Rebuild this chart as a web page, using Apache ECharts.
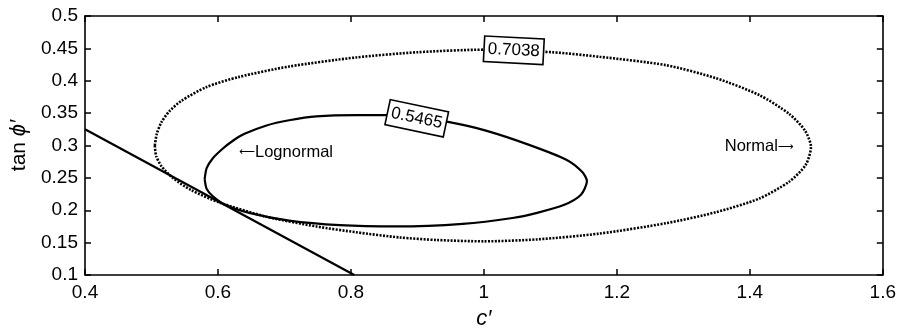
<!DOCTYPE html>
<html>
<head>
<meta charset="utf-8">
<script src="https://cdn.jsdelivr.net/npm/echarts@6/dist/echarts.min.js"></script>
<style>
  html, body { margin: 0; padding: 0; background: #fff; }
  #chart { width: 899px; height: 335px; }
</style>
</head>
<body>
<div id="chart"></div>
<script>
// values
var xTicks = [0.4, 0.6, 0.8, 1.0, 1.2, 1.4, 1.6];
var yTicks = [0.1, 0.15, 0.2, 0.25, 0.3, 0.35, 0.4, 0.45, 0.5];

var lognormalCurve = [
  [0.580, 0.248], [0.583, 0.265], [0.592, 0.280], [0.607, 0.295], [0.622, 0.307],
  [0.640, 0.318], [0.673, 0.331], [0.707, 0.339], [0.748, 0.345], [0.808, 0.347],
  [0.853, 0.347], [0.900, 0.343], [0.948, 0.336], [1.003, 0.323], [1.068, 0.301],
  [1.124, 0.278], [1.148, 0.259], [1.155, 0.245], [1.146, 0.224], [1.120, 0.208],
  [1.080, 0.196], [1.043, 0.188], [0.968, 0.179], [0.868, 0.175], [0.783, 0.177],
  [0.707, 0.184], [0.647, 0.196], [0.610, 0.209], [0.592, 0.222], [0.583, 0.233],
  [0.580, 0.248]
];

var normalCurve = [
  [0.505, 0.300], [0.508, 0.318], [0.515, 0.336], [0.527, 0.353], [0.545, 0.369],
  [0.582, 0.390], [0.632, 0.406], [0.707, 0.422], [0.808, 0.436], [0.900, 0.444],
  [1.000, 0.448], [1.103, 0.444], [1.174, 0.437], [1.274, 0.424], [1.349, 0.404],
  [1.414, 0.378], [1.459, 0.349], [1.483, 0.323], [1.492, 0.298], [1.484, 0.270],
  [1.459, 0.244], [1.414, 0.218], [1.349, 0.197], [1.274, 0.180], [1.174, 0.164],
  [1.080, 0.155], [1.000, 0.152], [0.930, 0.154], [0.873, 0.158], [0.808, 0.166],
  [0.748, 0.175], [0.673, 0.190], [0.602, 0.212], [0.560, 0.231], [0.532, 0.250],
  [0.515, 0.268], [0.507, 0.284], [0.505, 0.300]
];

var limitLine = [[0.4, 0.325], [0.805, 0.1]];

// contour value labels: [x, y, text, rotation]
var contourLabels = [
  [0.899, 0.342, '0.5465', -12],
  [1.045, 0.447, '0.7038', -3]
];
// curve names: [x, y, text, side]
var curveNotes = [
  [0.632, 0.290, '{a|\u27F5}Lognormal', 'left'],
  [1.466, 0.298, 'Normal{a|\u27F6}', 'right']
];

var chart = echarts.init(document.getElementById('chart'));
var font = 'Liberation Sans, Arial, sans-serif';

function axisBase() {
  return {
    type: 'value',
    axisLine: { show: true, onZero: false, lineStyle: { color: '#000', width: 1.6 } },
    axisTick: { show: true, inside: true, length: 6, lineStyle: { color: '#000', width: 1.5 } },
    splitLine: { show: false }
  };
}

var xBottom = Object.assign(axisBase(), {
  position: 'bottom', min: 0.4, max: 1.6, interval: 0.2,
  axisLabel: {
    color: '#000', fontSize: 19, fontFamily: font, margin: 8,
    formatter: function (v) { return String(Math.round(v * 10) / 10); }
  },
  name: 'c\u2032', nameLocation: 'middle', nameGap: 33,
  nameTextStyle: { color: '#000', fontSize: 22, fontStyle: 'italic', fontFamily: font }
});
var xTop = Object.assign(axisBase(), {
  position: 'top', min: 0.4, max: 1.6, interval: 0.2, axisLabel: { show: false }
});
var yLeft = Object.assign(axisBase(), {
  position: 'left', min: 0.1, max: 0.5, interval: 0.05,
  axisLabel: {
    color: '#000', fontSize: 19, fontFamily: font, margin: 7,
    formatter: function (v) { return String(Math.round(v * 100) / 100); }
  },
  name: 'tan {i|\u03D5\u2032}', nameLocation: 'middle', nameGap: 54,
  nameTextStyle: {
    color: '#000', fontSize: 21, fontFamily: font,
    rich: { i: { fontSize: 22, fontStyle: 'italic', fontFamily: font, color: '#000' } }
  }
});
var yRight = Object.assign(axisBase(), {
  position: 'right', min: 0.1, max: 0.5, interval: 0.05, axisLabel: { show: false }
});

var option = {
  backgroundColor: '#fff',
  animation: false,
  grid: { left: 85, right: 15, top: 16, bottom: 54 },
  xAxis: [xBottom, xTop],
  yAxis: [yLeft, yRight],
  series: [
    {
      type: 'line', data: normalCurve, smooth: 0.25, showSymbol: false,
      lineStyle: { color: '#000', width: 2.6, type: [2, 1.4] }
    },
    {
      type: 'line', data: lognormalCurve, smooth: 0.25, showSymbol: false,
      lineStyle: { color: '#000', width: 2.2 }
    },
    {
      type: 'line', data: limitLine, showSymbol: false,
      lineStyle: { color: '#000', width: 2.2 }
    },
    {
      type: 'scatter', symbolSize: 0, z: 5, itemStyle: { opacity: 1 },
      data: contourLabels.map(function (d) {
        return {
          value: [d[0], d[1]],
          label: {
            show: true, position: 'inside', formatter: d[2], rotate: d[3],
            color: '#000', fontSize: 17, fontFamily: font,
            backgroundColor: '#fff', borderColor: '#000', borderWidth: 1.6,
            padding: [4, 3, 3, 3]
          }
        };
      })
    },
    {
      type: 'scatter', symbolSize: 0, z: 5, itemStyle: { opacity: 1 },
      data: curveNotes.map(function (d) {
        return {
          value: [d[0], d[1]],
          label: {
            show: true, position: d[3] === 'left' ? 'right' : 'left', distance: 0,
            formatter: d[2], color: '#000', fontSize: 16.5, fontFamily: font,
            rich: { a: { fontSize: 11, fontFamily: 'DejaVu Sans', color: '#000' } }
          }
        };
      })
    }
  ]
};

chart.setOption(option);
</script>
</body>
</html>
